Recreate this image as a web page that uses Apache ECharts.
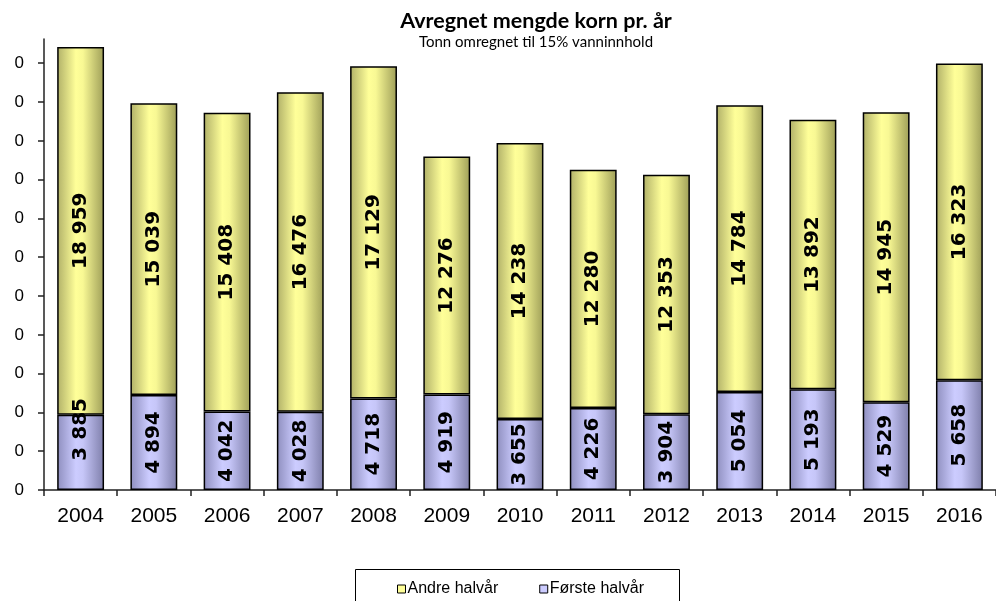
<!DOCTYPE html>
<html>
<head>
<meta charset="utf-8">
<script src="https://cdn.jsdelivr.net/npm/echarts@6/dist/echarts.min.js"></script>
<style>
html,body{margin:0;padding:0;background:#fff;}
#chart{width:996px;height:601px;}
</style>
</head>
<body>
<div id="chart"></div>
<script>
const years = ['2004','2005','2006','2007','2008','2009','2010','2011','2012','2013','2014','2015','2016'];
const forsteHalvar = [3885, 4894, 4042, 4028, 4718, 4919, 3655, 4226, 3904, 5054, 5193, 4529, 5658];
const andreHalvar = [18959, 15039, 15408, 16476, 17129, 12276, 14238, 12280, 12353, 14784, 13892, 14945, 16323];
const yTickValues = [0, 2000, 4000, 6000, 8000, 10000, 12000, 14000, 16000, 18000, 20000, 22000];
const yTickLabels = ['0','0','0','0','0','0','0','0','0','0','0','0'];
const titleText = 'Avregnet mengde korn pr. år';
const subtitleText = 'Tonn omregnet til 15% vanninnhold';
const seriesNames = ['Første halvår', 'Andre halvår'];

function fmt(v) {
  return String(v).replace(/\B(?=(\d{3})+(?!\d))/g, ' ');
}
function grad(c0, c1, c2, c3) {
  return new echarts.graphic.LinearGradient(0, 0, 1, 0, [
    {offset: 0, color: c0},
    {offset: 0.4, color: c1},
    {offset: 0.55, color: c2},
    {offset: 1, color: c3}
  ]);
}
const labelStyle = {
  show: true,
  position: 'inside',
  rotate: 90,
  formatter: p => fmt(p.value),
  fontFamily: '"DejaVu Sans", sans-serif',
  fontWeight: 'bold',
  fontSize: 20,
  color: '#000'
};
// In the reference, the first bottom label was moved up by hand (offset is in the rotated text frame)
const forsteData = forsteHalvar.map((v, i) => i === 0 ? {value: v, label: {offset: [23, 0]}} : v);

const chart = echarts.init(document.getElementById('chart'), null, {renderer: 'canvas'});
chart.setOption({
  animation: false,
  backgroundColor: '#fff',
  title: {
    text: titleText,
    subtext: subtitleText,
    left: 536,
    top: 10,
    padding: 0,
    textAlign: 'center',
    itemGap: 3,
    textStyle: {fontFamily: 'Lato, sans-serif', fontWeight: 'bold', fontSize: 21.5, color: '#000'},
    subtextStyle: {fontFamily: 'Lato, sans-serif', fontSize: 15, color: '#000'}
  },
  grid: {left: 44, top: 39, width: 956.5, height: 451},
  xAxis: {
    type: 'category',
    data: years,
    axisLine: {lineStyle: {color: '#222', width: 1.5}},
    axisTick: {show: true, length: 6, interval: 0, lineStyle: {color: '#222', width: 1.5}},
    axisLabel: {margin: 16, fontFamily: '"Liberation Sans", Arial, sans-serif', fontSize: 21, color: '#000', interval: 0}
  },
  yAxis: {
    type: 'value',
    min: 0,
    max: 23250,
    interval: 2000,
    splitLine: {show: false},
    axisLine: {show: true, lineStyle: {color: '#222', width: 1.5}},
    axisTick: {show: true, length: 6, customValues: yTickValues, lineStyle: {color: '#222', width: 1.5}},
    axisLabel: {
      margin: 20,
      customValues: yTickValues,
      formatter: (v) => yTickLabels[yTickValues.indexOf(v)] ?? '',
      fontFamily: '"Liberation Sans", Arial, sans-serif', fontSize: 17, color: '#000'
    }
  },
  legend: {
    left: 397,
    top: 581,
    padding: 0,
    itemWidth: 8,
    itemHeight: 8,
    itemGap: 41,
    icon: 'rect',
    textStyle: {fontFamily: '"Liberation Sans", Arial, sans-serif', fontSize: 16, color: '#000', padding: [0,0,0,-3]},
    data: [
      {name: seriesNames[1], itemStyle: {color: '#ffff99', borderColor: '#000', borderWidth: 1}},
      {name: seriesNames[0], itemStyle: {color: '#ccccff', borderColor: '#000', borderWidth: 1}}
    ]
  },
  graphic: [{
    type: 'rect',
    shape: {x: 355.5, y: 569.5, width: 324, height: 50},
    style: {fill: 'none', stroke: '#000', lineWidth: 1},
    silent: true
  }],
  series: [
    {
      name: seriesNames[0],
      type: 'bar',
      stack: 'total',
      data: forsteData,
      barWidth: '64%',
      itemStyle: {color: grad('#8e8ebe', '#ccccff', '#c6c6f8', '#7e7eaa'), borderColor: '#000', borderWidth: 1.5},
      label: labelStyle
    },
    {
      name: seriesNames[1],
      type: 'bar',
      stack: 'total',
      data: andreHalvar,
      barWidth: '64%',
      itemStyle: {color: grad('#b0b068', '#ffff99', '#f8f894', '#9e9e58'), borderColor: '#000', borderWidth: 1.5},
      label: labelStyle
    }
  ]
});
</script>
</body>
</html>
